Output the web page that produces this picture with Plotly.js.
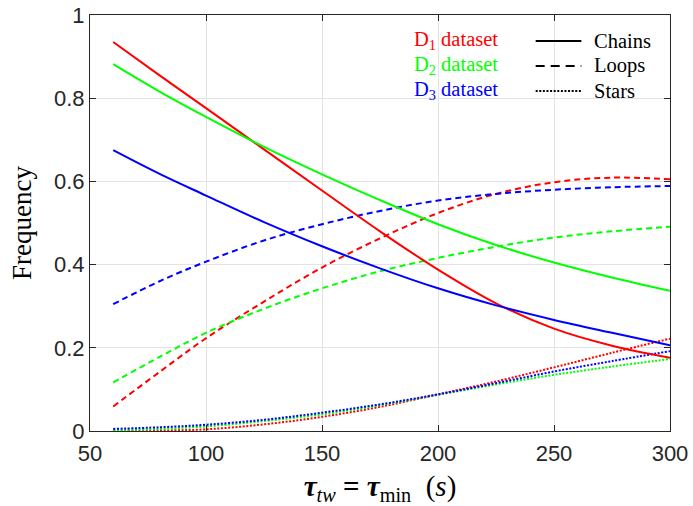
<!DOCTYPE html>
<html>
<head>
<meta charset="utf-8">
<script src="https://cdn.plot.ly/plotly-3.0.1.min.js"></script>
<style>html,body{margin:0;padding:0;background:#fff;}#chart{width:693px;height:506px;}</style>
</head>
<body>
<div id="chart"></div>
<script>
// tau_tw = tau_min (s)
const tau = [60, 80, 100, 125, 150, 175, 200, 225, 250, 275, 300];

// Chains (solid)
const d1Chains = [0.935, 0.855, 0.776, 0.677, 0.578, 0.480, 0.388, 0.307, 0.246, 0.205, 0.176];
const d2Chains = [0.882, 0.816, 0.755, 0.683, 0.617, 0.555, 0.497, 0.447, 0.405, 0.369, 0.337];
const d3Chains = [0.675, 0.618, 0.566, 0.502, 0.444, 0.391, 0.343, 0.302, 0.267, 0.236, 0.206];

// Loops (dashed)
const d1Loops = [0.059, 0.142, 0.223, 0.311, 0.393, 0.463, 0.524, 0.570, 0.598, 0.609, 0.605];
const d2Loops = [0.117, 0.178, 0.236, 0.294, 0.343, 0.384, 0.416, 0.443, 0.465, 0.480, 0.491];
const d3Loops = [0.305, 0.360, 0.407, 0.458, 0.497, 0.529, 0.554, 0.570, 0.580, 0.586, 0.589];

// Stars (dotted)
const d1Stars = [0.000, 0.001, 0.004, 0.016, 0.034, 0.058, 0.088, 0.119, 0.153, 0.188, 0.222];
const d2Stars = [0.002, 0.005, 0.011, 0.024, 0.040, 0.062, 0.087, 0.112, 0.135, 0.155, 0.173];
const d3Stars = [0.005, 0.009, 0.015, 0.027, 0.044, 0.064, 0.088, 0.115, 0.143, 0.168, 0.192];

const datasetNames = ['D<sub>1</sub> dataset', 'D<sub>2</sub> dataset', 'D<sub>3</sub> dataset'];
const structureNames = ['Chains', 'Loops', 'Stars'];
const yTicks = [0, 0.2, 0.4, 0.6, 0.8, 1];
const xTicks = [50, 100, 150, 200, 250, 300];

const colors = ['#ff0000', '#00ff00', '#0000ff'];
const dashes = ['solid', '6px,4px', '2px,1.6px'];

const series = [
  [d1Chains, d1Loops, d1Stars],
  [d2Chains, d2Loops, d2Stars],
  [d3Chains, d3Loops, d3Stars]
];

const traces = [];
for (let s = 2; s >= 0; s--) {
  for (let d = 0; d < 3; d++) {
    traces.push({
      x: tau, y: series[d][s], type: 'scatter', mode: 'lines',
      line: {color: colors[d], width: 2, dash: dashes[s], shape: 'spline', smoothing: 1},
      showlegend: false, hoverinfo: 'skip'
    });
  }
}

const rowY = [0.9376, 0.8776, 0.8175];
const annotations = [];
const shapes = [];
for (let i = 0; i < 3; i++) {
  annotations.push({
    xref: 'paper', yref: 'paper', x: 0.7064, y: rowY[i], xanchor: 'right', yanchor: 'middle',
    text: datasetNames[i], showarrow: false,
    font: {family: 'Liberation Serif, Times New Roman, serif', size: 20.5, color: colors[i]}
  });
  annotations.push({
    xref: 'paper', yref: 'paper', x: 0.866, y: rowY[i], xanchor: 'left', yanchor: 'middle',
    text: structureNames[i], showarrow: false,
    font: {family: 'Liberation Serif, Times New Roman, serif', size: 20.5, color: '#000'}
  });
  shapes.push({
    type: 'line', xref: 'paper', yref: 'paper', x0: 0.7684, x1: 0.8472, y0: rowY[i], y1: rowY[i],
    line: {color: '#000', width: 2, dash: ['solid', '9px,6px', '2px,1.6px'][i]}
  });
}

const axisCommon = {
  showline: true, linecolor: '#262626', linewidth: 1, mirror: 'ticks',
  ticks: 'inside', ticklen: 6, tickwidth: 1, tickcolor: '#262626',
  showgrid: true, gridcolor: '#e3e3e3', gridwidth: 1, zeroline: false,
  tickfont: {family: 'Liberation Sans, Arial, sans-serif', size: 22, color: '#262626'}
};

const layout = {
  width: 693, height: 506,
  margin: {l: 90, r: 23, t: 15, b: 75},
  paper_bgcolor: '#fff', plot_bgcolor: '#fff',
  showlegend: false,
  xaxis: Object.assign({}, axisCommon, {
    range: [50, 300], tickmode: 'array', tickvals: xTicks, ticktext: xTicks.map(String),
    ticklabelstandoff: 3,
    title: {text: '<b><i>τ</i></b><sub><i>tw</i></sub> <b>=</b> <b><i>τ</i></b><sub>min</sub>  (<i>s</i>)',
            font: {family: 'Liberation Serif, Times New Roman, serif', size: 29, color: '#000'}, standoff: 10}
  }),
  yaxis: Object.assign({}, axisCommon, {
    range: [0, 1], tickmode: 'array', tickvals: yTicks, ticktext: yTicks.map(String),
    title: {text: 'Frequency', font: {family: 'Liberation Serif, Times New Roman, serif', size: 27, color: '#000'}, standoff: 14}
  }),
  annotations: annotations,
  shapes: shapes
};

Plotly.newPlot('chart', traces, layout, {displayModeBar: false, staticPlot: true});
</script>
</body>
</html>
